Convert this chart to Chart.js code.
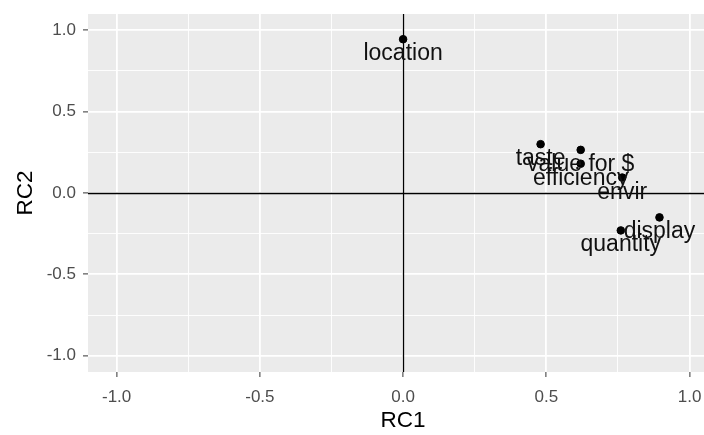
<!DOCTYPE html>
<html>
<head>
<meta charset="utf-8">
<script src="https://cdn.jsdelivr.net/npm/chart.js@4.4.1/dist/chart.umd.min.js"></script>
<style>
  html, body { margin: 0; padding: 0; background: #fff; overflow: hidden; }
</style>
</head>
<body>
<!-- a bit wider than the window: the ggplot panel is cut off at the right edge -->
<canvas id="plot" width="723" height="435"></canvas>
<script>
// Variable loadings
var names = ["location", "taste", "value for $", "efficiency", "envir", "display", "quantity"];
var rc1 = [0.0, 0.48, 0.62, 0.62, 0.765, 0.895, 0.76];
var rc2 = [0.945, 0.30, 0.265, 0.18, 0.095, -0.15, -0.23];
var tickStep = 0.25;

var points = names.map(function (n, i) {
  return { x: rc1[i], y: rc2[i] };
});

function isMajor(v) {
  return Math.abs(Math.round(v * 2) - v * 2) < 1e-6;
}
function isMinor(v) {
  return Math.abs(Math.round(v * 4) - v * 4) < 1e-6;
}

// grey panel like ggplot
var panelBg = {
  id: "panelBg",
  beforeDraw: function (chart) {
    var a = chart.chartArea, ctx = chart.ctx;
    ctx.save();
    ctx.fillStyle = "#ebebeb";
    ctx.fillRect(a.left, a.top, a.right - a.left, a.bottom - a.top);
    ctx.restore();
  }
};

// black lines through zero + point labels
var overlay = {
  id: "overlay",
  beforeDatasetsDraw: function (chart) {
    var a = chart.chartArea, ctx = chart.ctx;
    var x0 = Math.round(chart.scales.x.getPixelForValue(0)) + 0.5;
    var y0 = Math.round(chart.scales.y.getPixelForValue(0)) + 0.5;
    ctx.save();
    ctx.strokeStyle = "#000";
    ctx.lineWidth = 1.3;
    ctx.beginPath();
    ctx.moveTo(a.left, y0); ctx.lineTo(a.right, y0);
    ctx.moveTo(x0, a.top); ctx.lineTo(x0, a.bottom);
    ctx.stroke();
    ctx.restore();
  },
  afterDatasetsDraw: function (chart) {
    var ctx = chart.ctx;
    var meta = chart.getDatasetMeta(0);
    ctx.save();
    ctx.font = "23px 'Liberation Sans', Arial, sans-serif";
    ctx.fillStyle = "#111";
    ctx.textAlign = "center";
    ctx.textBaseline = "alphabetic";
    meta.data.forEach(function (pt, i) {
      ctx.fillText(names[i], pt.x, pt.y + 21);
    });
    ctx.restore();
  }
};

var gridOpts = {
  color: function (c) { return isMinor(c.tick.value) ? "#ffffff" : "rgba(0,0,0,0)"; },
  lineWidth: function (c) { return isMajor(c.tick.value) ? 1.8 : 0.9; },
  tickColor: function (c) { return isMajor(c.tick.value) ? "#333333" : "rgba(0,0,0,0)"; },
  tickLength: 5,
  tickWidth: 1
};

var tickFont = { family: "'Liberation Sans', Arial, sans-serif", size: 17 };
var titleFont = { family: "'Liberation Sans', Arial, sans-serif", size: 22.5 };

function tickLabel(v) {
  return isMajor(v) ? v.toFixed(1) : "";
}

var ctx = document.getElementById("plot").getContext("2d");
var chart = new Chart(ctx, {
  type: "scatter",
  data: {
    datasets: [{
      data: points,
      backgroundColor: "#000",
      borderColor: "#000",
      pointRadius: 3.8,
      pointHoverRadius: 3.8
    }]
  },
  options: {
    responsive: false,
    animation: false,
    layout: { padding: { top: 14, right: 0, left: 0, bottom: 0 } },
    plugins: { legend: { display: false }, tooltip: { enabled: false } },
    scales: {
      x: {
        type: "linear",
        min: -1.1,
        max: 1.1,
        border: { display: false },
        grid: gridOpts,
        ticks: {
          stepSize: tickStep,
          includeBounds: false,
          autoSkip: false,
          maxRotation: 0,
          padding: 10,
          color: "#4d4d4d",
          font: tickFont,
          callback: tickLabel
        },
        title: { display: true, text: "RC1", color: "#000", font: titleFont, padding: { top: 0, bottom: 1 } },
        afterFit: function (s) { s.height = 63; s.paddingLeft = 0; s.paddingRight = 0; }
      },
      y: {
        type: "linear",
        min: -1.1,
        max: 1.1,
        border: { display: false },
        grid: gridOpts,
        ticks: {
          stepSize: tickStep,
          includeBounds: false,
          autoSkip: false,
          padding: 7,
          color: "#4d4d4d",
          font: tickFont,
          callback: tickLabel
        },
        title: { display: true, text: "RC2", color: "#000", font: titleFont, padding: { top: 12, bottom: 0 } },
        afterFit: function (s) { s.width = 88; s.paddingTop = 0; s.paddingBottom = 0; }
      }
    }
  },
  plugins: [panelBg, overlay]
});
</script>
</body>
</html>
